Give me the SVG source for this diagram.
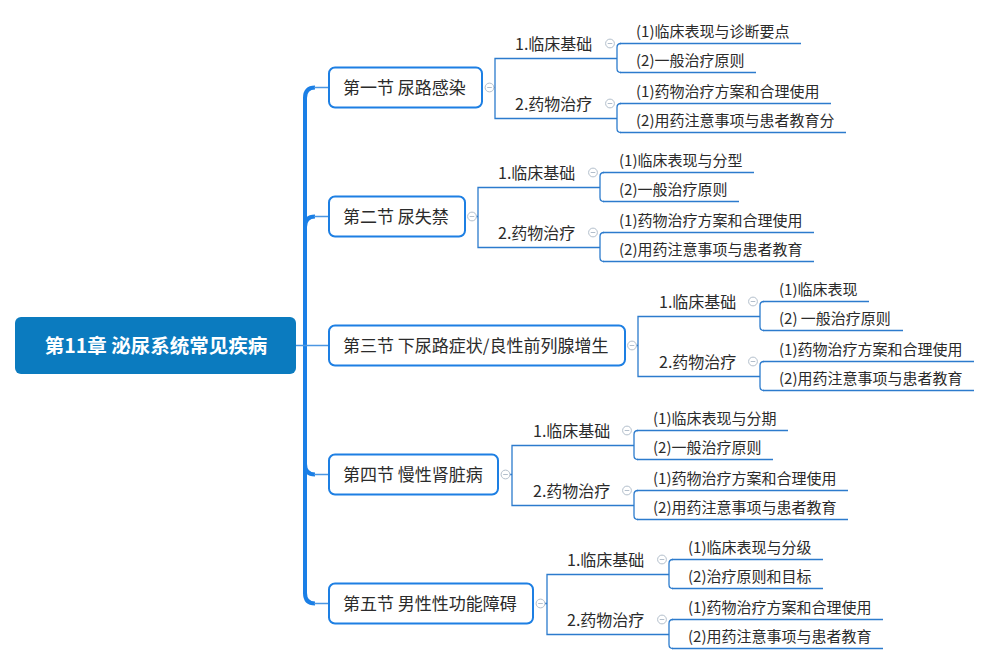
<svg xmlns="http://www.w3.org/2000/svg" xmlns:xlink="http://www.w3.org/1999/xlink" width="991" height="665" viewBox="0 0 991 665">
<style>
text{font-family:"Noto Sans CJK SC","Liberation Sans",sans-serif;fill:#2b2b2b}
.rt{font-size:19.5px;font-weight:bold;fill:#fff}
.st{font-size:17px}
.l2{font-size:16px}
.lf{font-size:15px}
.box{fill:#fff;stroke:#1d7fe3;stroke-width:2}
.ln{fill:none;stroke:#2c7bcd;stroke-width:1.3}
.sp{fill:none;stroke:#1b7fe6;stroke-width:4}
.br{fill:none;stroke:#4b96e2;stroke-width:1.6}
.tg{fill:#fff;stroke:#b3bfcc;stroke-width:1}
</style>
<defs>
<g id="tog"><circle class="tg" cx="0" cy="0" r="4.4"/><path d="M-2.3 0H2.3" stroke="#b3bfcc" stroke-width="1"/></g>
</defs>
<rect width="991" height="665" fill="#fff"/>
<g id="connectors">
<path class="sp" d="M305,97 V594"/>
<path class="sp" stroke-width="3.4" d="M305,98 Q305,87.5 315,87.5"/>
<path class="sp" stroke-width="3" d="M305,227 Q305,216.5 315,216.5"/>
<path class="sp" stroke-width="3" d="M305,464 Q305,474.5 315,474.5"/>
<path class="sp" stroke-width="3.4" d="M305,593 Q305,603.5 315,603.5"/>
<path class="br" d="M314,87.5 H329 M314,216.5 H329 M296,345.5 H329 M314,474.5 H329 M314,603.5 H329"/>
<!-- sec1 -->
<path class="ln" d="M493.5,87.5 H495 M617,58.5 H495 V118.5 H617"/>
<path class="ln" d="M617,58.5 V47.5 Q617,43.5 621,43.5 M617,58.5 V68.5 Q617,72.5 621,72.5 M617,118.5 V107.5 Q617,103.5 621,103.5 M617,118.5 V128.5 Q617,132.5 621,132.5"/>
<!-- sec2 -->
<path class="ln" d="M476,216.5 H478 M600,187.5 H478 V247.5 H600"/>
<path class="ln" d="M600,187.5 V176.5 Q600,172.5 604,172.5 M600,187.5 V197.5 Q600,201.5 604,201.5 M600,247.5 V236.5 Q600,232.5 604,232.5 M600,247.5 V257.5 Q600,261.5 604,261.5"/>
<!-- sec3 -->
<path class="ln" d="M636,345.5 H638 M760,316.5 H638 V376.5 H760"/>
<path class="ln" d="M760,316.5 V305.5 Q760,301.5 764,301.5 M760,316.5 V326.5 Q760,330.5 764,330.5 M760,376.5 V365.5 Q760,361.5 764,361.5 M760,376.5 V386.5 Q760,390.5 764,390.5"/>
<!-- sec4 -->
<path class="ln" d="M510,474.5 H512 M634,445.5 H512 V505.5 H634"/>
<path class="ln" d="M634,445.5 V434.5 Q634,430.5 638,430.5 M634,445.5 V455.5 Q634,459.5 638,459.5 M634,505.5 V494.5 Q634,490.5 638,490.5 M634,505.5 V515.5 Q634,519.5 638,519.5"/>
<!-- sec5 -->
<path class="ln" d="M545,603.5 H547 M669,574.5 H547 V634.5 H669"/>
<path class="ln" d="M669,574.5 V563.5 Q669,559.5 673,559.5 M669,574.5 V584.5 Q669,588.5 673,588.5 M669,634.5 V623.5 Q669,619.5 673,619.5 M669,634.5 V644.5 Q669,648.5 673,648.5"/>
<!-- toggles -->
<use xlink:href="#tog" x="489.5" y="87.5"/>
<use xlink:href="#tog" x="610" y="43.5"/>
<use xlink:href="#tog" x="610" y="103.5"/>
<use xlink:href="#tog" x="472" y="216.5"/>
<use xlink:href="#tog" x="593" y="172.5"/>
<use xlink:href="#tog" x="593" y="232.5"/>
<use xlink:href="#tog" x="632" y="345.5"/>
<use xlink:href="#tog" x="753" y="301.5"/>
<use xlink:href="#tog" x="753" y="361.5"/>
<use xlink:href="#tog" x="505.5" y="474.5"/>
<use xlink:href="#tog" x="627" y="430.5"/>
<use xlink:href="#tog" x="627" y="490.5"/>
<use xlink:href="#tog" x="540.5" y="603.5"/>
<use xlink:href="#tog" x="662" y="559.5"/>
<use xlink:href="#tog" x="662" y="619.5"/>
</g>
<g id="root">
<rect x="15" y="317" width="281" height="57" rx="6" fill="#0b7bbf"/>
<text class="rt" x="156" y="352.5" text-anchor="middle">第11章 泌尿系统常见疾病</text>
</g>
<!-- Section 1 -->
<g id="s1"><rect class="box" x="329" y="67.5" width="153" height="40" rx="6"/><text class="st" x="343" y="94">第一节 尿路感染</text></g>
<g id="s1a"><text class="l2" x="515" y="49.5">1.临床基础</text></g>
<g id="s1b"><text class="l2" x="515" y="109.5">2.药物治疗</text></g>
<g id="s1a1"><text class="lf" x="636" y="36.5">(1)临床表现与诊断要点</text><path class="ln" d="M620,43.5 H801"/></g>
<g id="s1a2"><text class="lf" x="636" y="65.5">(2)一般治疗原则</text><path class="ln" d="M620,72.5 H756"/></g>
<g id="s1b1"><text class="lf" x="636" y="96.5">(1)药物治疗方案和合理使用</text><path class="ln" d="M620,103.5 H831"/></g>
<g id="s1b2"><text class="lf" x="636" y="125.5">(2)用药注意事项与患者教育分</text><path class="ln" d="M620,132.5 H846"/></g>
<!-- Section 2 -->
<g id="s2"><rect class="box" x="329" y="196.5" width="136" height="40" rx="6"/><text class="st" x="343" y="223">第二节 尿失禁</text></g>
<g id="s2a"><text class="l2" x="498" y="178.5">1.临床基础</text></g>
<g id="s2b"><text class="l2" x="498" y="238.5">2.药物治疗</text></g>
<g id="s2a1"><text class="lf" x="619" y="165.5">(1)临床表现与分型</text><path class="ln" d="M603,172.5 H754"/></g>
<g id="s2a2"><text class="lf" x="619" y="194.5">(2)一般治疗原则</text><path class="ln" d="M603,201.5 H739"/></g>
<g id="s2b1"><text class="lf" x="619" y="225.5">(1)药物治疗方案和合理使用</text><path class="ln" d="M603,232.5 H814"/></g>
<g id="s2b2"><text class="lf" x="619" y="254.5">(2)用药注意事项与患者教育</text><path class="ln" d="M603,261.5 H814"/></g>
<!-- Section 3 -->
<g id="s3"><rect class="box" x="329" y="325.5" width="296" height="40" rx="6"/><text class="st" x="343" y="352">第三节 下尿路症状/良性前列腺增生</text></g>
<g id="s3a"><text class="l2" x="659" y="307.5">1.临床基础</text></g>
<g id="s3b"><text class="l2" x="659" y="367.5">2.药物治疗</text></g>
<g id="s3a1"><text class="lf" x="779" y="294.5">(1)临床表现</text><path class="ln" d="M763,301.5 H869"/></g>
<g id="s3a2"><text class="lf" x="779" y="323.5">(2) 一般治疗原则</text><path class="ln" d="M763,330.5 H903"/></g>
<g id="s3b1"><text class="lf" x="779" y="354.5">(1)药物治疗方案和合理使用</text><path class="ln" d="M763,361.5 H974"/></g>
<g id="s3b2"><text class="lf" x="779" y="383.5">(2)用药注意事项与患者教育</text><path class="ln" d="M763,390.5 H974"/></g>
<!-- Section 4 -->
<g id="s4"><rect class="box" x="329" y="454.5" width="169" height="40" rx="6"/><text class="st" x="343" y="481">第四节 慢性肾脏病</text></g>
<g id="s4a"><text class="l2" x="533" y="436.5">1.临床基础</text></g>
<g id="s4b"><text class="l2" x="533" y="496.5">2.药物治疗</text></g>
<g id="s4a1"><text class="lf" x="653" y="423.5">(1)临床表现与分期</text><path class="ln" d="M637,430.5 H788"/></g>
<g id="s4a2"><text class="lf" x="653" y="452.5">(2)一般治疗原则</text><path class="ln" d="M637,459.5 H773"/></g>
<g id="s4b1"><text class="lf" x="653" y="483.5">(1)药物治疗方案和合理使用</text><path class="ln" d="M637,490.5 H848"/></g>
<g id="s4b2"><text class="lf" x="653" y="512.5">(2)用药注意事项与患者教育</text><path class="ln" d="M637,519.5 H848"/></g>
<!-- Section 5 -->
<g id="s5"><rect class="box" x="329" y="583.5" width="204" height="40" rx="6"/><text class="st" x="343" y="610">第五节 男性性功能障碍</text></g>
<g id="s5a"><text class="l2" x="567" y="565.5">1.临床基础</text></g>
<g id="s5b"><text class="l2" x="567" y="625.5">2.药物治疗</text></g>
<g id="s5a1"><text class="lf" x="688" y="552.5">(1)临床表现与分级</text><path class="ln" d="M672,559.5 H823"/></g>
<g id="s5a2"><text class="lf" x="688" y="581.5">(2)治疗原则和目标</text><path class="ln" d="M672,588.5 H823"/></g>
<g id="s5b1"><text class="lf" x="688" y="612.5">(1)药物治疗方案和合理使用</text><path class="ln" d="M672,619.5 H883"/></g>
<g id="s5b2"><text class="lf" x="688" y="641.5">(2)用药注意事项与患者教育</text><path class="ln" d="M672,648.5 H883"/></g>
</svg>
